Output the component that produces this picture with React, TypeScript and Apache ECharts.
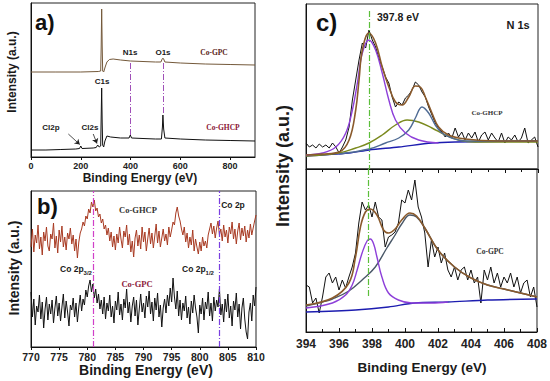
import React, { useEffect, useRef } from 'react';
import * as echarts from 'echarts';

// ---------- Panel a: survey spectra (binding energy eV, intensity a.u.) ----------
const surveyGpc: [number, number][] = [
  [0, 85], [100, 85], [200, 85], [270, 85.5], [280, 86], [282, 110], [284, 148], [286, 112], [288, 86],
  [292, 85], [298, 90], [305, 95], [315, 97.5], [330, 98], [360, 97], [400, 96], [450, 95.5], [500, 95],
  [522, 95], [528, 98.5], [532, 98.5], [538, 95], [600, 94], [700, 93], [800, 92.5], [900, 92],
];
const surveyGhcp: [number, number][] = [
  [0, 7], [60, 7], [120, 7.5], [180, 8], [195, 8.5], [200, 11], [205, 8.5], [250, 9], [262, 9.5], [268, 12],
  [274, 10], [280, 11], [282, 40], [284, 69], [286, 35], [288, 12], [292, 10], [297, 16], [305, 21], [320, 20],
  [360, 19], [394, 19], [399, 22], [404, 19], [450, 18.5], [500, 18], [524, 18], [528, 30], [530, 42], [533, 28],
  [538, 19], [600, 18], [700, 17], [800, 16.5], [900, 16],
];
const surveyTicks = [0, 200, 400, 600, 800];

// ---------- Panel b: Co 2p (770–810 eV, step 0.25) ----------
const co2pStart = 770;
const co2pStep = 0.25;
const co2pGhcp = [
  100, 118, 95, 112, 104, 122, 98, 110, 92, 115, 106, 120, 101, 96, 113, 108, 124, 99, 111, 94,
  117, 105, 121, 100, 110, 97, 114, 108, 119, 103, 112, 96, 108, 89, 105, 114, 118, 125, 121, 131,
  128, 138, 134, 145, 140, 147, 136, 139, 130, 133, 124, 128, 118, 122, 112, 119, 106, 115, 100, 111,
  97, 113, 104, 120, 108, 99, 116, 110, 122, 102, 113, 95, 106, 90, 109, 117, 101, 112, 98, 120,
  105, 115, 96, 108, 119, 103, 114, 99, 111, 123, 104, 116, 100, 109, 118, 106, 113, 102, 120, 110,
  117, 125, 122, 134, 140, 131, 126, 118, 112, 120, 105, 114, 99, 110, 102, 117, 96, 108, 100, 93,
  105, 96, 110, 101, 106, 99, 112, 118, 124, 113, 121, 109, 119, 126, 112, 118, 106, 122, 110, 117,
  104, 120, 113, 125, 108, 118, 103, 116, 124, 107, 119, 111, 121, 105, 117, 109, 123, 112, 119, 126,
  132,
];
const co2pGpc = [
  55, 30, 48, 22, 41, 35, 52, 28, 45, 19, 38, 50, 27, 43, 33, 47, 24, 39, 51, 31,
  44, 26, 40, 53, 29, 46, 35, 21, 42, 37, 49, 30, 44, 25, 40, 52, 36, 48, 42, 57,
  50, 61, 67, 55, 63, 49, 58, 44, 53, 38, 47, 33, 50, 28, 44, 36, 52, 30, 41, 24,
  46, 37, 55, 32, 43, 27, 48, 39, 58, 34, 45, 25, 41, 50, 31, 47, 22, 38, 53, 35,
  44, 29, 51, 40, 56, 33, 45, 26, 49, 37, 54, 30, 42, 20, 39, 48, 34, 52, 41, 59,
  45, 69, 50, 38, 56, 31, 47, 27, 44, 36, 51, 29, 40, 23, 46, 34, 52, 39, 30, 14,
  42, 33, 49, 27, 45, 38, 55, 31, 44, 26, 50, 36, 47, 40, 58, 32, 43, 25, 48, 35,
  53, 29, 41, 21, 46, 37, 54, 30, 43, 18, 39, 49, 28, 15, 8, 35, 44, 26, 52, 41,
  60,
];
const co2pPeaks = [781, 803.5];

// ---------- Panel c: N 1s (394–408 eV, raw step 0.2) ----------
const n1sStart = 394;
const n1sStep = 0.2;
const n1sGhcpRaw = [
  26, 22, 24, 21, 25, 22, 24, 21, 26, 22,
  16, 22, 29, 42, 69, 89, 109, 126, 121, 139,
  129, 122, 111, 102, 92, 86, 72, 62, 67, 64,
  71, 74, 79, 87, 84, 77, 72, 62, 54, 46,
  41, 37, 32, 36, 31, 41, 32, 37, 29, 36,
  31, 37, 27, 34, 37, 29, 36, 31, 27, 36,
  26, 32, 29, 34, 27, 31, 41, 26, 29, 32,
  22,
];
const n1sGpcRaw = [
  47, 45, 29, 34, 19, 35, 55, 59, 49, 55,
  42, 52, 44, 55, 65, 79, 109, 130, 122, 127,
  115, 130, 115, 112, 85, 95, 97, 100, 109, 132,
  129, 142, 132, 152, 125, 115, 99, 65, 92, 75,
  85, 69, 79, 62, 55, 65, 52, 62, 65, 52,
  62, 49, 55, 29, 62, 52, 65, 49, 59, 45,
  55, 49, 59, 45, 55, 39, 49, 52, 35, 45,
  25,
];
const ghcpEnvelope: [number, number][] = [
  [394, 14], [395, 15], [396, 17], [396.6, 29], [397, 59], [397.2, 89], [397.4, 119], [397.8, 136],
  [398.2, 126], [398.6, 102], [399, 82], [399.4, 67], [399.8, 64], [400.2, 72], [400.6, 83], [400.9, 82],
  [401.2, 72], [401.6, 56], [402, 42], [402.6, 34], [403.6, 30], [405.6, 28], [408, 28],
];
const ghcpPyridinic: [number, number][] = [
  [394, 14], [395, 16], [395.8, 22], [396.4, 36], [396.8, 59], [397.1, 86], [397.4, 116], [397.8, 129],
  [398.2, 119], [398.6, 96], [399, 69], [399.4, 49], [400, 36], [400.8, 29], [402, 26],
];
const ghcpPyrrolic: [number, number][] = [
  [394, 13], [396, 16], [397, 21], [397.8, 26], [398.6, 34], [399.4, 44], [400.1, 49], [400.8, 47],
  [401.6, 41], [402.4, 34], [403.2, 29], [404.2, 27], [408, 27],
];
const ghcpGraphitic: [number, number][] = [
  [396, 15], [397.8, 20], [398.8, 26], [399.6, 31], [400.2, 39], [400.6, 51], [401, 62], [401.4, 56],
  [401.8, 44], [402.2, 36], [402.8, 31], [403.6, 28], [408, 28],
];
const ghcpBackground: [number, number][] = [
  [394, 13], [396.6, 16], [397.8, 19], [399.6, 22], [401.6, 26], [403, 27], [408, 28],
];
const gpcEnvelope: [number, number][] = [
  [394, 27], [395.6, 34], [396.6, 49], [397, 75], [397.3, 105], [397.6, 120], [397.9, 123], [398.3, 117],
  [398.7, 102], [399, 99], [399.4, 103], [399.8, 112], [400.3, 119], [400.7, 116], [401.2, 104], [402, 82],
  [403, 65], [404, 54], [405, 47], [406, 43], [407, 39], [408, 35],
];
const gpcPyridinic: [number, number][] = [
  [394, 24], [395.6, 29], [396.4, 37], [396.8, 47], [397.1, 62], [397.4, 79], [397.7, 91], [397.9, 93],
  [398.1, 88], [398.3, 75], [398.6, 55], [399, 39], [399.6, 32], [400.4, 29], [401.6, 29], [402.6, 30],
];
const gpcBroad: [number, number][] = [
  [394, 26], [395, 30], [395.6, 33], [396.6, 41], [397.4, 52], [398.2, 65], [398.9, 84], [399.4, 97],
  [399.8, 108], [400.3, 117], [400.7, 115], [401.2, 104], [402, 82], [403, 65], [404, 54], [405, 47],
  [406, 43], [407, 39], [408, 35],
];
const gpcBackground: [number, number][] = [
  [394, 20], [397, 22], [399, 25], [400.6, 29], [402.6, 30], [405, 32], [408, 33],
];
const n1sMarker = 397.8;

const SANS = 'Arial, "Liberation Sans", sans-serif';
const SERIF = '"Times New Roman", "Liberation Serif", serif';

function pairs(start: number, step: number, vals: number[]): [number, number][] {
  return vals.map((v, i) => [+(start + i * step).toFixed(2), v]);
}

function txt(text: string, x: number, y: number, font: string, fill = '#1a1a1a', align = 'center', rot = 0, rich?: any) {
  return {
    type: 'text', x, y, rotation: rot, z: 100,
    style: { text, font, fill, align, verticalAlign: 'middle', textAlign: align, textVerticalAlign: 'middle', rich },
  };
}

function xAxisCfg(gridIndex: number, min: number, max: number, interval: number, extra: any) {
  return {
    type: 'value', gridIndex, min, max, interval,
    axisLine: { show: true, onZero: false, lineStyle: { color: '#111', width: 1 } },
    axisTick: { show: true, length: 3, lineStyle: { color: '#111' } },
    splitLine: { show: false },
    ...extra,
  };
}
function yAxisCfg(gridIndex: number, max: number) {
  return {
    type: 'value', gridIndex, min: 0, max,
    axisLine: { show: true, lineStyle: { color: '#111', width: 1 } },
    axisTick: { show: false }, axisLabel: { show: false }, splitLine: { show: false },
  };
}
function line(xi: number, data: [number, number][], color: string, width: number, smooth: any = false, extra: any = {}) {
  return {
    type: 'line', xAxisIndex: xi, yAxisIndex: xi, data, smooth, symbol: 'none', showSymbol: false,
    lineStyle: { color, width }, itemStyle: { color }, silent: true, ...extra,
  };
}
const dashDot = [6, 2, 1, 2];

export default function App() {
  const ref = useRef<HTMLDivElement>(null);
  useEffect(() => {
    const chart = echarts.init(ref.current!, null, { renderer: 'svg' });
    const gridBase = { show: true, borderColor: '#222', borderWidth: 1, backgroundColor: 'transparent' };
    const option: any = {
      animation: false,
      backgroundColor: '#fff',
      grid: [
        { ...gridBase, left: 31, top: 3, width: 224, height: 154 },
        { ...gridBase, left: 31, top: 191, width: 225, height: 156 },
        { ...gridBase, left: 306, top: 4, width: 232, height: 165 },
        { ...gridBase, left: 306, top: 169, width: 232, height: 163 },
      ],
      xAxis: [
        xAxisCfg(0, 0, 900, 200, {
          axisLabel: {
            fontSize: 9, fontWeight: 'bold', color: '#222', margin: 4, fontFamily: SANS, showMaxLabel: false,
            formatter: (v: number) => (surveyTicks.includes(v) ? String(v) : ''),
          },
        }),
        xAxisCfg(1, 770, 810, 5, {
          axisLabel: { fontSize: 10.5, fontWeight: 'bold', color: '#222', margin: 4, fontFamily: SANS },
        }),
        xAxisCfg(2, 394, 408, 2, {
          axisLabel: { show: false },
          axisTick: { show: true, length: 4, inside: false, lineStyle: { color: '#111' } },
          minorTick: { show: true, splitNumber: 2, length: 3, lineStyle: { color: '#111' } },
        }),
        xAxisCfg(3, 394, 408, 2, {
          axisLabel: { fontSize: 12, fontWeight: 'bold', color: '#222', margin: 6, fontFamily: SANS },
          axisTick: { show: true, length: 4, inside: true, lineStyle: { color: '#111' } },
          minorTick: { show: true, splitNumber: 2, length: 3, lineStyle: { color: '#111' } },
        }),
      ],
      yAxis: [yAxisCfg(0, 154), yAxisCfg(1, 156), yAxisCfg(2, 165), yAxisCfg(3, 163)],
      series: [
        // Panel a
        line(0, surveyGpc, '#74593a', 1, false, {
          markLine: {
            silent: true, symbol: 'none', label: { show: false },
            lineStyle: { color: '#a050b8', width: 1, type: dashDot },
            data: [
              [{ coord: [400, 94] }, { coord: [400, 20] }],
              [{ coord: [530, 94] }, { coord: [530, 42] }],
            ],
          },
        }),
        line(0, surveyGhcp, '#111', 1, false, {
          markLine: {
            silent: true, symbol: ['none', 'arrow'], symbolSize: 5, label: { show: false },
            lineStyle: { color: '#222', width: 0.8, type: 'solid' },
            data: [
              [{ coord: [150, 23] }, { coord: [196, 12.5] }],
              [{ coord: [250, 23] }, { coord: [265, 13.5] }],
            ],
          },
        }),
        // Panel b
        line(1, pairs(co2pStart, co2pStep, co2pGhcp), '#a83a22', 1, false, {
          markLine: {
            silent: true, symbol: 'none', label: { show: false },
            data: [
              { xAxis: co2pPeaks[0], lineStyle: { color: '#d040c8', width: 1.2, type: dashDot } },
              { xAxis: co2pPeaks[1], lineStyle: { color: '#7a3fe0', width: 1.2, type: dashDot } },
            ],
          },
        }),
        line(1, pairs(co2pStart, co2pStep, co2pGpc), '#111', 1),
        // Panel c upper (Co-GHCP)
        line(2, pairs(n1sStart, n1sStep, n1sGhcpRaw), '#111', 1, false, {
          markLine: {
            silent: true, symbol: 'none', label: { show: false },
            lineStyle: { color: '#5cbf3a', width: 1.2, type: dashDot },
            data: [[{ coord: [n1sMarker, 158] }, { coord: [n1sMarker, 0] }]],
          },
        }),
        line(2, ghcpBackground, '#1d1db0', 1.4, 0.3),
        line(2, ghcpPyrrolic, '#7b8a1e', 1.4, 0.4),
        line(2, ghcpGraphitic, '#4f6b94', 1.4, 0.4),
        line(2, ghcpPyridinic, '#8d3fd9', 1.4, 0.4),
        line(2, ghcpEnvelope, '#8a5a2c', 1.6, 0.4),
        // Panel c lower (Co-GPC)
        line(3, pairs(n1sStart, n1sStep, n1sGpcRaw), '#111', 1, false, {
          markLine: {
            silent: true, symbol: 'none', label: { show: false },
            lineStyle: { color: '#5cbf3a', width: 1.2, type: dashDot },
            data: [[{ coord: [n1sMarker, 163] }, { coord: [n1sMarker, 35] }]],
          },
        }),
        line(3, gpcBackground, '#1d1db0', 1.4, 0.3),
        line(3, gpcBroad, '#4a5868', 1.4, 0.4),
        line(3, gpcPyridinic, '#8d3fd9', 1.4, 0.4),
        line(3, gpcEnvelope, '#8a5a2c', 1.6, 0.4),
      ],
      graphic: [
        // panel a
        txt('a)', 35, 22, `bold 22px ${SANS}`, '#111', 'left'),
        txt('N1s', 130, 52, `bold 8px ${SANS}`),
        txt('O1s', 163, 52, `bold 8px ${SANS}`),
        txt('Co-GPC', 214, 52, `bold 7.5px ${SERIF}`, '#5a2418'),
        txt('C1s', 102, 81, `bold 8px ${SANS}`),
        txt('Cl2p', 51, 127, `bold 8px ${SANS}`),
        txt('Cl2s', 90, 127, `bold 8px ${SANS}`),
        txt('Co-GHCP', 223, 127, `bold 7.5px ${SERIF}`, '#8b1535'),
        txt('Intensity (a.u.)', 12, 72, `bold 12px ${SANS}`, '#1a1a1a', 'center', Math.PI / 2),
        txt('Binding Energy (eV)', 140, 178, `bold 12px ${SANS}`),
        // panel b
        txt('b)', 37, 206, `bold 22px ${SANS}`, '#111', 'left'),
        txt('Co-GHCP', 138, 210, `bold 8.5px ${SERIF}`, '#333'),
        txt('Co 2p', 233, 205, `bold 8.5px ${SANS}`),
        txt('{m|Co 2p}{s|3/2}', 60, 267, `bold 8.5px ${SANS}`, '#1a1a1a', 'left', 0, {
          m: { font: `bold 8.5px ${SANS}`, fill: '#1a1a1a', lineHeight: 12, verticalAlign: 'bottom' },
          s: { font: `bold 6px ${SANS}`, fill: '#1a1a1a', lineHeight: 12, verticalAlign: 'bottom', padding: [0, 0, -3, 0] },
        }),
        txt('{m|Co 2p}{s|1/2}', 182, 267, `bold 8.5px ${SANS}`, '#1a1a1a', 'left', 0, {
          m: { font: `bold 8.5px ${SANS}`, fill: '#1a1a1a', lineHeight: 12, verticalAlign: 'bottom' },
          s: { font: `bold 6px ${SANS}`, fill: '#1a1a1a', lineHeight: 12, verticalAlign: 'bottom', padding: [0, 0, -3, 0] },
        }),
        txt('Co-GPC', 137, 284, `bold 8.5px ${SERIF}`, '#8b1a3c'),
        txt('Intensity (a.u.)', 14, 268, `bold 14px ${SANS}`, '#1a1a1a', 'center', Math.PI / 2),
        txt('Binding Energy (eV)', 146, 370, `bold 14px ${SANS}`),
        // panel c
        txt('c)', 316, 22, `bold 24px ${SANS}`, '#111', 'left'),
        txt('397.8 eV', 377, 17, `bold 10.5px ${SANS}`, '#1a1a1a', 'left'),
        txt('N 1s', 518, 25, `bold 11px ${SANS}`),
        txt('Co-GHCP', 487, 113, `bold 7px ${SERIF}`, '#333'),
        txt('Co-GPC', 490, 251, `bold 7.5px ${SERIF}`, '#333'),
        txt('Intensity (a.u.)', 283, 166, `bold 18px ${SANS}`, '#1a1a1a', 'center', Math.PI / 2),
        txt('Binding Energy (eV)', 422, 367, `bold 13.5px ${SANS}`),
      ],
    };
    chart.setOption(option);
    return () => chart.dispose();
  }, []);
  return (
    <div
      ref={ref}
      style={{ position: 'fixed', left: 0, top: 0, width: 550, height: 381, background: '#fff' }}
    />
  );
}
